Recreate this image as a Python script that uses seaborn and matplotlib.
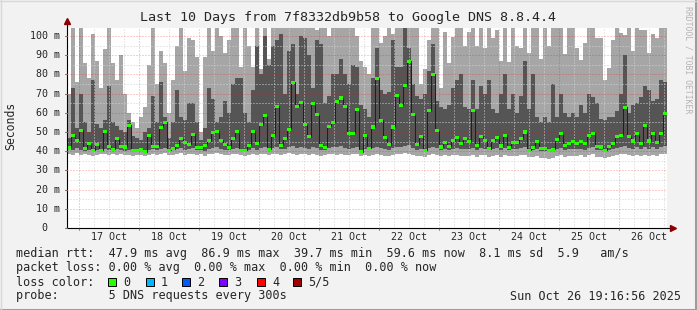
import numpy as np
import matplotlib
matplotlib.use("Agg")
import matplotlib.pyplot as plt
import seaborn as sns
from matplotlib.patches import Rectangle, Polygon
from matplotlib.lines import Line2D
from matplotlib import transforms

# ---------------- data (ms), 150 samples over the last 10 days ----------------
median_ms = [42, 48.4, 45.6, 51, 41.4, 43.8, 40.6, 43.4, 40.6, 50.3,
             42.5, 41, 46.6, 42.5, 42.2, 53.6, 40.3, 40.6, 41, 39.8,
             48.4, 42.5, 42.5, 52.5, 55, 40.6, 41.2, 43, 46.5, 44.7,
             43.5, 48.7, 42, 41.7, 43, 45.5, 49.6, 50.5, 45.8, 43.7,
             41.7, 46.7, 50.3, 40.6, 40.6, 43.2, 50.3, 44, 53.8, 58.5,
             41, 48, 63.3, 43.2, 46.5, 51.4, 75.8, 63.3, 65.6, 53.8,
             47.6, 65, 59, 43.2, 42, 53, 55, 66, 67.7, 63.3,
             49.3, 49.4, 61.5, 39.7, 48.4, 41.6, 52.6, 78, 56, 46.9,
             43.4, 52.6, 69, 64, 74, 86.9, 59, 43.4, 47.7, 40.6,
             61, 80, 50.7, 42.2, 44.3, 42.5, 45.5, 47, 43.8, 46.5,
             45, 61, 42.9, 47.8, 45.5, 41.2, 45.8, 47.3, 42.7, 48.4,
             42, 44.3, 44.3, 46.5, 50, 40.6, 42, 45, 41.6, 41.6,
             40.6, 41, 46, 49, 43, 43.8, 45, 44, 45, 44,
             48.4, 49.4, 42.5, 42.2, 40.6, 42.5, 43.8, 47.7, 48.4, 63,
             47.7, 45.3, 49, 43.8, 53.4, 45.3, 49.4, 44.3, 49, 59.6]

inner_hi = [47, 73, 52, 70, 55, 50, 77, 54, 52, 56,
            74, 55, 53, 51, 50, 56, 48, 47, 46, 50,
            52, 69, 55, 76, 58, 47, 55, 72, 58, 56,
            65, 65, 55, 46, 52, 73, 67, 55, 58, 66,
            60, 75, 78, 78, 60, 55, 72, 95, 80, 100,
            85, 95, 98, 101, 70, 92, 96, 70, 100, 99,
            90, 73, 98, 96, 65, 69, 80, 80, 88, 80,
            75, 85, 84, 64, 62, 58, 78, 94, 72, 70,
            71, 98, 84, 84, 104, 94, 75, 69, 67, 70,
            82, 96, 66, 63, 62, 64, 73, 77, 80, 63,
            62, 77, 62, 74, 70, 77, 62, 60, 70, 80,
            62, 70, 60, 69, 87, 62, 80, 58, 55, 58,
            55, 75, 58, 70, 60, 58, 60, 58, 64, 60,
            70, 68, 65, 57, 56, 58, 58, 61, 70, 90,
            60, 64, 65, 68, 74, 72, 66, 67, 77, 76]

outer_hi = [70, 105, 76, 105, 86, 78, 101, 87, 73, 93,
            105, 86, 77, 90, 70, 60, 55, 52, 58, 63,
            85, 105, 75, 92, 86, 60, 77, 95, 105, 82,
            99, 98, 89, 50, 89, 105, 92, 105, 100, 91,
            98, 105, 105, 84, 105, 95, 84, 105, 83, 105,
            88, 105, 105, 105, 105, 105, 105, 105, 105, 105,
            105, 105, 103, 105, 105, 100, 105, 105, 105, 105,
            105, 105, 100, 87, 84, 80, 105, 105, 96.5, 100,
            105, 101, 105, 105, 105, 105, 105, 105, 75, 83,
            98, 105, 105, 73, 102, 86, 99.5, 105, 105, 95,
            102, 105, 95, 105, 94, 105, 99, 103, 87, 105,
            86.6, 105, 95, 94, 105, 91, 105, 105, 88, 105,
            95, 105, 105, 105, 90.5, 105, 105, 93.6, 87.4, 96.5,
            105, 105, 99, 99, 77, 83.5, 98, 105, 101.7, 100.5,
            105, 92, 105, 103, 103, 91, 101, 99, 105, 105]

inner_lo = [41, 40.5, 41.5, 40.5, 40, 40.5, 40, 40.5, 40, 41,
            40.5, 40, 41, 40.5, 40, 40.5, 39.5, 39.5, 40, 39.5,
            40.5, 41, 40.5, 41, 41.5, 40, 40.5, 41, 41.5, 40.5,
            41, 41.5, 40.5, 40.5, 40, 41, 41.5, 42, 41, 40.5,
            40.5, 41, 41.5, 40, 40, 40.5, 41.5, 40.5, 41.5, 42,
            40.5, 41.5, 42, 41, 41, 42, 42.5, 41.5, 42, 41.5,
            41, 42, 41.5, 40.5, 40.5, 41.5, 42, 42, 42.5, 41.5,
            41, 41.5, 42, 39.5, 41, 40.5, 41.5, 42, 41.5, 41,
            40.5, 41.5, 42, 42, 42.5, 43, 41.5, 40.5, 41, 40,
            41.5, 42, 41.5, 40.5, 41, 40.5, 41, 41.5, 41, 41,
            41, 41.5, 40.5, 41.5, 41, 40.5, 41, 41.5, 40.5, 41.5,
            40.5, 41, 41, 41.5, 42, 40, 40.5, 41, 40, 40,
            39.5, 40, 41, 41.5, 40.5, 41, 41, 41, 41, 40.5,
            41.5, 42, 40.5, 40.5, 40, 40.5, 41, 41.5, 42, 42.5,
            41.5, 41, 42, 41, 42, 41, 42, 41, 42, 42.5]

outer_lo = [38.5, 38, 39, 38, 38.5, 38, 37.5, 38, 38.5, 38.5,
            38, 38.5, 38, 38.5, 38, 38, 37.5, 38, 38, 37.5,
            38, 38.5, 38, 38.5, 39, 38, 38, 38.5, 39, 38,
            38.5, 38.5, 38, 38.5, 37.5, 38.5, 38.5, 39, 38.5, 38,
            38, 38.5, 38.5, 38, 37.5, 38, 38.5, 38, 38.5, 38.5,
            38, 38.5, 38.5, 38, 38.5, 39, 38.5, 38, 38.5, 38.5,
            38, 38.5, 38, 37.5, 38, 38.5, 38.5, 38, 38.5, 38,
            38, 38.5, 38.5, 37.5, 38, 37.5, 38, 38.5, 38, 37.5,
            37.5, 38, 38.5, 38.5, 39, 38.5, 38, 37.5, 37.5, 37,
            38, 38.5, 38, 37.5, 38, 37.5, 38, 38, 37.5, 37.5,
            37.5, 38, 37, 38, 38, 37, 37.5, 38, 37, 38,
            37.5, 37.5, 37.5, 38, 38, 37, 37, 37.5, 36.5, 36.5,
            36, 36.5, 37.5, 38, 37, 37.5, 37.5, 37.5, 38, 37,
            38, 38.5, 37, 37, 36.5, 37, 37.5, 38, 38.5, 38.5,
            38, 37.5, 38, 37.5, 38, 37.5, 38, 37.5, 38.5, 38.5]

day_labels = ["17 Oct", "18 Oct", "19 Oct", "20 Oct", "21 Oct",
              "22 Oct", "23 Oct", "24 Oct", "25 Oct", "26 Oct"]
y_tick_values = [0, 10, 20, 30, 40, 50, 60, 70, 80, 90, 100]
y_tick_labels = ["0", "10 m", "20 m", "30 m", "40 m", "50 m",
                 "60 m", "70 m", "80 m", "90 m", "100 m"]
loss_labels = ["0", "1", "2", "3", "4", "5/5"]
loss_colors = ["#26ff00", "#00b8ff", "#0059ff", "#7e00ff", "#ff0000", "#a10000"]

title = "Last 10 Days from 7f8332db9b58 to Google DNS 8.8.4.4"
line_rtt = "median rtt:  47.9 ms avg  86.9 ms max  39.7 ms min  59.6 ms now  8.1 ms sd  5.9   am/s"
line_loss = "packet loss: 0.00 % avg  0.00 % max  0.00 % min  0.00 % now"
line_probe = "probe:       5 DNS requests every 300s"
stamp = "Sun Oct 26 19:16:56 2025"

# ---------------- figure ----------------
sns.set_style("white")
plt.rcParams['font.family'] = ['DejaVu Sans Mono', 'DejaVu Sans']

W, H = 697, 310
fig = plt.figure(figsize=(W / 100, H / 100), dpi=100)
fig.patch.set_facecolor('#f2f2f2')

TOTAL_H = 240.0                       # hours shown
ax = fig.add_axes([67 / W, 1 - 228 / H, 600 / W, 200 / H])
ax.set_facecolor('white')
ax.set_xlim(0, TOTAL_H)
ax.set_ylim(0, 200 / 1.92)

n = len(median_ms)
t = np.linspace(0, TOTAL_H, n + 1)


def ext(a):
    a = np.asarray(a, dtype=float)
    return np.append(a, a[-1])


# smoke
ax.fill_between(t, ext(outer_lo), ext(outer_hi), step='post',
                color='#a6a6a6', lw=0, zorder=1, antialiased=False)
ax.fill_between(t, ext(inner_lo), ext(inner_hi), step='post',
                color='#555555', lw=0, zorder=2, antialiased=False)

# grid (on top of smoke)
midnight0 = 4 + 43 / 60 + 4 / 3600
majors = [midnight0 + 24 * k for k in range(10) if midnight0 + 24 * k < TOTAL_H]
minors = [midnight0 + 6 * j for j in range(40)
          if midnight0 + 6 * j < TOTAL_H and j % 4 != 0]
dots = (0, (1, 2))
for x in minors:
    ax.axvline(x, color='#d2d2d2', lw=0.72, ls=dots, zorder=3)
for yv in range(5, 105, 10):
    ax.axhline(yv, color='#d2d2d2', lw=0.72, ls=dots, zorder=3)
for x in majors:
    ax.axvline(x, color=(1, 0, 0, 0.4), lw=0.72, ls=dots, zorder=3)
for yv in range(10, 105, 10):
    ax.axhline(yv, color=(1, 0, 0, 0.4), lw=0.72, ls=dots, zorder=3)

# median line + loss-coloured band
sns.lineplot(x=t, y=ext(median_ms), drawstyle='steps-post', color='#202020',
             lw=0.75, ax=ax, zorder=4, estimator=None, sort=False)
ax.fill_between(t, ext(median_ms) - 0.8, ext(median_ms) + 0.8, step='post',
                color=loss_colors[0], lw=0, zorder=5, antialiased=False)

# axes / ticks
for s in ax.spines.values():
    s.set_visible(False)
ax.plot([0, 0], [0, 1.02], transform=ax.transAxes, color='black', lw=0.8,
        clip_on=False, zorder=6)
ax.plot([0, 1.005], [0, 0], transform=ax.transAxes, color='black', lw=0.8,
        clip_on=False, zorder=6)
ax.plot([0], [1.035], transform=ax.transAxes, marker='^', color='#8a0000',
        ms=4.5, clip_on=False, zorder=7)
ax.plot([1.01], [0], transform=ax.transAxes, marker='>', color='#8a0000',
        ms=4.5, clip_on=False, zorder=7)

noons = [m + 12 for m in majors]
ax.set_xticks(noons)
ax.set_xticklabels(day_labels)
ax.tick_params(axis='x', length=0, pad=3.2, labelsize=7.2)
ax.set_yticks([])
ax.set_xlabel('')
ax.set_ylabel('')
for x in majors:
    ax.plot([x, x], [0, -1.2], color=(1, 0, 0, 0.6), lw=0.8, clip_on=False, zorder=6)

ytr = ax.get_yaxis_transform()
for v, lab in zip(y_tick_values, y_tick_labels):
    xo = -7 / 600 if lab != "0" else -20 / 600
    ax.text(xo, v, lab, transform=ytr, ha='right', va='center', fontsize=7.2)
    ax.plot([-2 / 600, 0], [v, v], transform=ytr, color='#777777', lw=0.8,
            clip_on=False, zorder=6)

# texts
fig.text(348 / W, 1 - 18 / H, title, ha='center', va='center', fontsize=9.6)
fig.text(11 / W, 1 - 126 / H, "Seconds", rotation=90, ha='center', va='center',
         fontsize=8.3)
fig.text(688 / W, 1 - 60 / H, "RRDTOOL / TOBI OETIKER", rotation=270, ha='center',
         va='center', fontsize=5.9, color='#b4b4b4')

fs = 8.5
fig.text(16 / W, 1 - 254 / H, line_rtt, ha='left', va='center', fontsize=fs)
fig.text(16 / W, 1 - 268 / H, line_loss, ha='left', va='center', fontsize=fs)
fig.text(16 / W, 1 - 282 / H, "loss color:", ha='left', va='center', fontsize=fs)
fig.text(16 / W, 1 - 296 / H, line_probe, ha='left', va='center', fontsize=fs)
fig.text(681 / W, 1 - 296 / H, stamp, ha='right', va='center', fontsize=fs)

box_x = [108, 146, 182, 219, 257, 293]
for bx, lab, col in zip(box_x, loss_labels, loss_colors):
    fig.patches.append(Rectangle((bx / W, 1 - 286 / H), 8 / W, 8 / H,
                                 transform=fig.transFigure, facecolor=col,
                                 edgecolor='black', lw=0.7))
    fig.text((bx + 15) / W, 1 - 282 / H, lab, ha='left', va='center', fontsize=fs)

# frame
fig.add_artist(Line2D([0, 1], [0.5 / H, 0.5 / H], transform=fig.transFigure,
                      color='#9c9c9c', lw=2.2))
fig.add_artist(Line2D([1 - 1 / W, 1 - 1 / W], [0, 1], transform=fig.transFigure,
                      color='#9c9c9c', lw=2.2))
fig.add_artist(Line2D([0, 1], [1 - 0.5 / H, 1 - 0.5 / H], transform=fig.transFigure,
                      color='#d8d8d8', lw=1))
fig.add_artist(Line2D([0.5 / W, 0.5 / W], [0, 1], transform=fig.transFigure,
                      color='#d8d8d8', lw=1))

fig.savefig("out.png", dpi=100, facecolor=fig.get_facecolor())
